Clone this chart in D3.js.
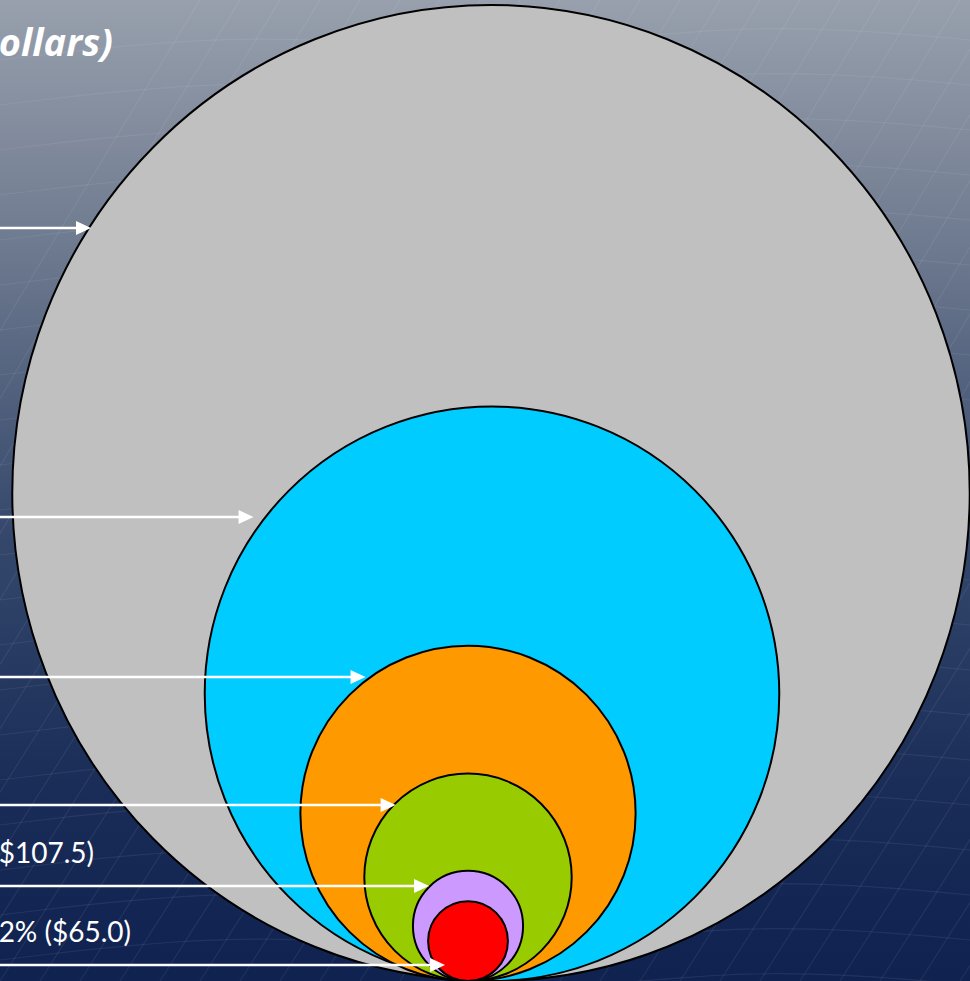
<!DOCTYPE html>
<html>
<head>
<meta charset="utf-8">
<script src="https://cdn.jsdelivr.net/npm/d3@7/dist/d3.min.js"></script>
<style>
html,body{margin:0;padding:0;overflow:hidden;background:#1a2b55;}
svg{display:block;}
</style>
</head>
<body>
<svg id="chart" width="970" height="981"></svg>
<script>
// ---- data ----
const categories = ["Level 1", "Level 2", "Level 3", "Level 4", "Level 5", "Level 6"];
const values = [3250, 1420, 612, 289, 107.5, 65.0];           // billions of dollars (estimated for hidden labels)
const labels = ["", "", "", "", "3.3% ($107.5)", "2% ($65.0)"];
const colors = ["#c0c0c0", "#00ccff", "#ff9900", "#99cc00", "#cc99ff", "#ff0000"];
const titleText = "(In Billions of Dollars)";

// ---- layout ----
const W = 970, H = 981;
const baseY = 981;
const centerX = [491, 492, 468, 468, 468, 468];
const xAspect = [0.981, 1, 1, 1, 1, 1];
const arrowY = [228, 517, 677, 805, 886, 965];
const tipOffset = [2, -12, -5, 2, -1, 9];
const labelEndX = [-20, -20, -20, -20, 94, 131];

const svg = d3.select("#chart");
const defs = svg.append("defs");
const bg = defs.append("linearGradient").attr("id", "bg").attr("x1", 0).attr("y1", 0).attr("x2", 0).attr("y2", 1);
bg.append("stop").attr("offset", "0%").attr("stop-color", "#98a0ad");
bg.append("stop").attr("offset", "25%").attr("stop-color", "#6e7a8f");
bg.append("stop").attr("offset", "55%").attr("stop-color", "#34476b");
bg.append("stop").attr("offset", "80%").attr("stop-color", "#1a2d58");
bg.append("stop").attr("offset", "100%").attr("stop-color", "#0f2250");
svg.append("rect").attr("width", W).attr("height", H).attr("fill", "url(#bg)");

// decorative mesh
const mesh = svg.append("g").attr("fill", "none").attr("stroke", "#ffffff").attr("stroke-opacity", 0.07).attr("stroke-width", 1.2);
const line = d3.line().curve(d3.curveBasis);
d3.range(0, 40).forEach(i => {
  const x0 = -400 + i * 40;
  mesh.append("path").attr("d", line([[x0, H], [x0 + 250, H * 0.6], [x0 + 420, H * 0.3], [x0 + 600, 0]]));
});
d3.range(0, 22).forEach(i => {
  const y0 = 40 + i * 45;
  mesh.append("path").attr("d", line([[0, y0 + 20], [250, y0 - 10], [500, y0 + 15], [750, y0 - 20], [970, y0]]));
});

// ---- scales ----
const r = d3.scalePow().exponent(0.64).domain([0, d3.max(values)]).range([0, 488]);

const data = values.map((v, i) => {
  const ry = r(v);
  return {cat: categories[i], value: v, label: labels[i], color: colors[i],
          cx: centerX[i], ry: ry, rx: ry * xAspect[i], cy: baseY - ry, i: i};
});

svg.append("g").selectAll("ellipse").data(data).join("ellipse")
  .attr("cx", d => d.cx).attr("cy", d => d.cy)
  .attr("rx", d => d.rx).attr("ry", d => d.ry)
  .attr("fill", d => d.color)
  .attr("stroke", "#000").attr("stroke-width", 2);

// arrows
const ag = svg.append("g");
data.forEach(d => {
  const y = arrowY[d.i];
  const dy = (y - d.cy) / d.ry;
  const edge = d.cx - d.rx * Math.sqrt(Math.max(0, 1 - dy * dy));
  const tip = edge + tipOffset[d.i];
  ag.append("line").attr("x1", -5).attr("x2", tip - 12).attr("y1", y).attr("y2", y)
    .attr("stroke", "#fff").attr("stroke-width", 2.5);
  ag.append("path").attr("d", `M${tip},${y} L${tip - 15},${y - 7} L${tip - 15},${y + 7} Z`).attr("fill", "#fff");
  if (d.label) {
    ag.append("text").attr("x", labelEndX[d.i]).attr("y", y - 23)
      .attr("text-anchor", "end").attr("fill", "#fff")
      .attr("font-family", "Lato, 'Open Sans', sans-serif").attr("font-size", 28)
      .text(d.label);
  }
});

// title
svg.append("text").attr("x", 113).attr("y", 56).attr("text-anchor", "end")
  .attr("fill", "#fff").attr("font-family", "'Open Sans', Lato, sans-serif")
  .attr("font-weight", "bold").attr("font-style", "italic").attr("font-size", 38)
  .text(titleText);
</script>
</body>
</html>
